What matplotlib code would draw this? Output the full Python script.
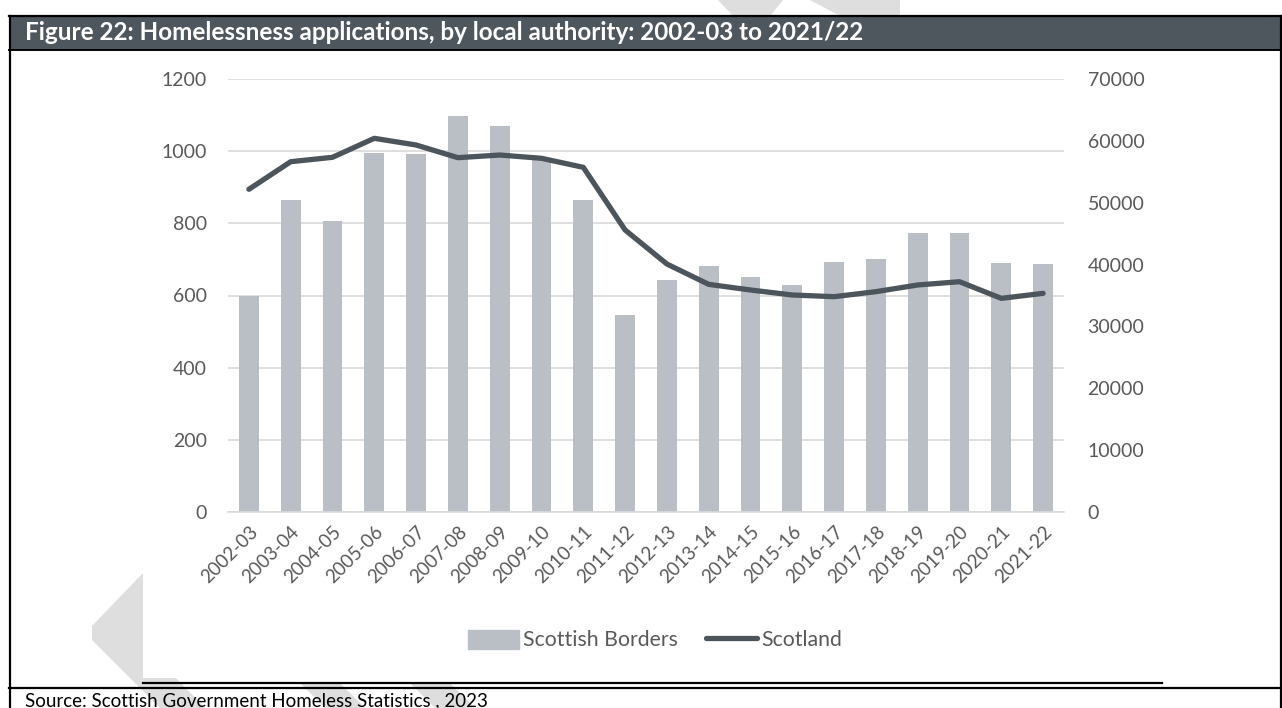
import matplotlib.pyplot as plt
import numpy as np
from matplotlib.lines import Line2D
from matplotlib.patches import Patch, Polygon, Rectangle

plt.rcParams['font.family'] = ['Lato', 'DejaVu Sans']

years = ["2002-03", "2003-04", "2004-05", "2005-06", "2006-07", "2007-08",
         "2008-09", "2009-10", "2010-11", "2011-12", "2012-13", "2013-14",
         "2014-15", "2015-16", "2016-17", "2017-18", "2018-19", "2019-20",
         "2020-21", "2021-22"]
borders = [600, 864, 806, 995, 992, 1097, 1070, 980, 864, 546,
           642, 682, 652, 628, 693, 700, 772, 772, 690, 687]
scotland = [52170, 56630, 57340, 60410, 59330, 57280, 57710, 57180, 55720, 45590,
            40090, 36800, 35890, 35080, 34810, 35620, 36700, 37230, 34540, 35350]

bar_col = "#b9bfc5"
line_col = "#4d555c"
txt_col = "#595959"
grid_col = "#d9d9d9"

W, H = 1282, 708
fig = plt.figure(figsize=(W / 100, H / 100), dpi=100)

# page furniture drawn in pixel coordinates
bg = fig.add_axes([0, 0, 1, 1], zorder=0)
bg.set_xlim(0, W)
bg.set_ylim(H, 0)
bg.axis("off")

wm = "#dedede"
for pts in [
    [(143, 573), (92, 626), (92, 640), (160, 708), (205, 708), (176, 678), (143, 678)],
    [(300, 683), (340, 683), (365, 708), (325, 708)],
    [(410, 683), (450, 683), (475, 708), (435, 708)],
    [(718, 0), (783, 0), (770, 16), (733, 16)],
    [(810, 0), (900, 0), (900, 16), (840, 16)],
]:
    bg.add_patch(Polygon(pts, closed=True, color=wm, lw=0))

bg.add_patch(Rectangle((9, 16), W - 9, 33, color="#4e565e", lw=0))
bg.plot([9, W], [16, 16], color="black", lw=1.6)
bg.plot([9, W], [49.5, 49.5], color="black", lw=1.4)
bg.plot([9.5, 9.5], [16, H], color="black", lw=1.6)
bg.plot([W - 1, W - 1], [16, H], color="black", lw=1.6)
bg.plot([143, 1162], [683, 683], color="black", lw=1.6)
bg.plot([9, W], [688, 688], color="black", lw=1.6)

bg.text(25, 33, "Figure 22: Homelessness applications, by local authority: 2002-03 to 2021/22",
        color="white", fontsize=17.5, fontweight="bold", va="center", ha="left")
bg.text(25, 701, "Source: Scottish Government Homeless Statistics , 2023",
        color="black", fontsize=13.5, va="center", ha="left")

# chart
ax = fig.add_axes([228 / W, 1 - 512 / H, (1064 - 228) / W, (512 - 79) / H], zorder=1)
ax.patch.set_visible(False)
x = np.arange(len(years))
ax.bar(x, borders, width=0.47, color=bar_col, zorder=2)
ax.set_xlim(-0.5, len(years) - 0.5)
ax.set_ylim(0, 1200)
ax.set_yticks(range(0, 1201, 200))
ax.grid(axis="y", color=grid_col, lw=1.2, zorder=0)
ax.set_axisbelow(True)
for s in ["top", "left", "right"]:
    ax.spines[s].set_visible(False)
ax.spines["bottom"].set_color(grid_col)
ax.spines["bottom"].set_linewidth(1.2)
ax.set_xticks(x)
ax.set_xticklabels(years, rotation=45, ha="right", rotation_mode="anchor")
ax.tick_params(axis="x", length=0, pad=8, labelsize=13.5, labelcolor=txt_col)
ax.tick_params(axis="y", length=0, pad=15, labelsize=14, labelcolor=txt_col)

ax2 = ax.twinx()
ax2.plot(x, scotland, color=line_col, lw=3.8, solid_capstyle="round",
         solid_joinstyle="round", zorder=3)
ax2.set_ylim(0, 70000)
ax2.set_yticks(range(0, 70001, 10000))
for s in ["top", "left", "right", "bottom"]:
    ax2.spines[s].set_visible(False)
ax2.tick_params(axis="y", length=0, pad=17, labelsize=14, labelcolor=txt_col)

handles = [Patch(color=bar_col, label="Scottish Borders"),
           Line2D([0], [0], color=line_col, lw=3.8, solid_capstyle="round", label="Scotland")]
leg = fig.legend(handles=handles, loc="center", bbox_to_anchor=(655 / W, 1 - 640 / H),
                 ncol=2, frameon=False, fontsize=15.3, handlelength=2.4, handleheight=1.0,
                 handletextpad=0.2, columnspacing=1.3)
for t in leg.get_texts():
    t.set_color(txt_col)

fig.savefig("out.png", dpi=100)
